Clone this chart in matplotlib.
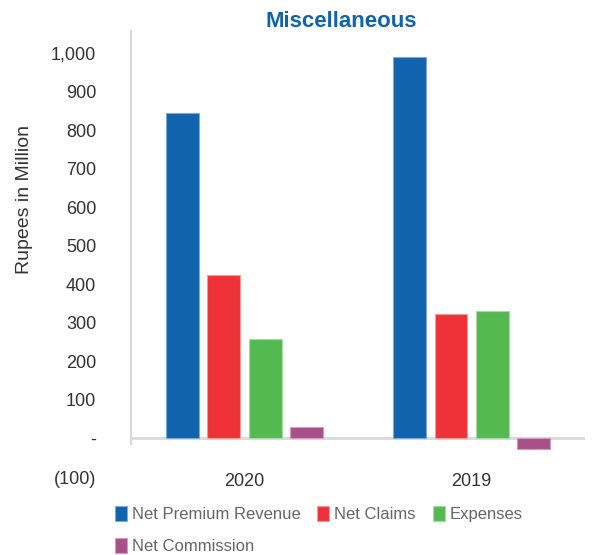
import matplotlib.pyplot as plt
import numpy as np
from matplotlib.ticker import FixedLocator, FixedFormatter

# ==========================
# DATA
# ==========================

years = ["2020", "2019"]
series_names = ["Net Premium Revenue", "Net Claims", "Expenses", "Net Commission"]
net_premium = [844, 990]
net_claims = [423, 322]
expenses = [257, 332]
net_commission = [31, -26]

tick_values = [-100, 0, 100, 200, 300, 400, 500, 600, 700, 800, 900, 1000]
tick_labels = ["(100)", "-", "100", "200", "300", "400", "500", "600", "700", "800", "900", "1,000"]

colors = ["#1063AC", "#EE3237", "#55B952", "#A8508A"]
edges = ["#7FAAD3", "#F59A9C", "#A6DBA4", "#D19CC0"]

plt.rcParams["font.family"] = ["Liberation Sans", "DejaVu Sans"]

# ==========================
# CHART
# ==========================

fig = plt.figure(figsize=(5.94, 5.55), dpi=100)
ax = fig.add_axes([0.2205, 0.1405, 0.7645, 0.8035])

x = np.arange(len(years))
slot = 0.181
width = 0.145
all_series = [net_premium, net_claims, expenses, net_commission]
bars = []
for i, vals in enumerate(all_series):
    b = ax.bar(x + (i - 1.5) * slot, vals, width, color=colors[i],
               edgecolor=edges[i], linewidth=0.8, label=series_names[i], zorder=3)
    bars.append(b)

ax.set_xlim(-0.5, 1.5)
ax.set_ylim(-100, 1057)
ax.axhline(0, color="#d9d9d9", linewidth=2, zorder=2)

ax.yaxis.set_major_locator(FixedLocator(tick_values))
ax.yaxis.set_major_formatter(FixedFormatter(tick_labels))
ax.set_xticks(x)
ax.set_xticklabels(years)
ax.tick_params(axis="both", length=0, labelsize=13, colors="#333333")
ax.tick_params(axis="y", pad=25)
ax.tick_params(axis="x", pad=-3)

for s in ["top", "right", "bottom"]:
    ax.spines[s].set_visible(False)
ax.spines["left"].set_color("#d9d9d9")
ax.spines["left"].set_linewidth(1.5)
ax.spines["left"].set_bounds(-15, 1057)

fig.text(0.5741, 0.962, "Miscellaneous", color="#1063AC", fontsize=16,
         fontweight="bold", ha="center", va="center")
fig.text(0.042, 1 - 200 / 555, "Rupees in Million", rotation=90, fontsize=14,
         color="#333333", ha="center", va="center")

# legend filled row by row: reorder for matplotlib's column-wise fill
order = [0, 3, 1, 2]
fig.legend([bars[i] for i in order], [series_names[i] for i in order],
           loc="upper left", bbox_to_anchor=(115 / 594, 1 - 506 / 555), ncol=3,
           frameon=False, fontsize=12, labelcolor="#666666",
           handlelength=0.72, handleheight=1.0, handletextpad=0.3,
           columnspacing=1.0, labelspacing=0.95, borderpad=0, borderaxespad=0)

plt.savefig("out.png", dpi=100)
